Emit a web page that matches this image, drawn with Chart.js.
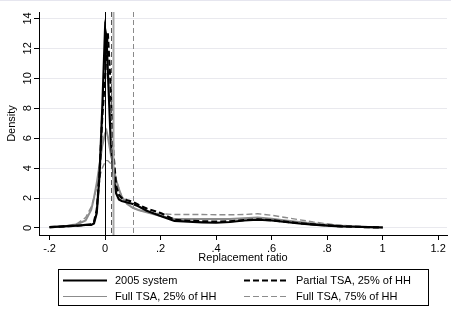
<!DOCTYPE html>
<html>
<head>
<meta charset="utf-8">
<script src="https://cdn.jsdelivr.net/npm/chart.js@4.4.1/dist/chart.umd.min.js"></script>
<style>
  html, body { margin: 0; padding: 0; background: #fff; }
  #wrap { position: relative; width: 451px; height: 313px; border-top: 1px solid #e6e6ef; box-sizing: border-box; }
  canvas { display: block; }
</style>
</head>
<body>
<div id="wrap"><canvas id="c" width="451" height="312"></canvas></div>
<script>
// ---- data ----
const xs = [-0.2,-0.15,-0.1,-0.07,-0.05,-0.04,-0.03,-0.02,-0.01,0,0.005,0.01,0.02,0.03,0.04,0.05,0.06,0.08,0.1,0.12,0.15,0.2,0.25,0.3,0.35,0.4,0.45,0.5,0.55,0.6,0.65,0.7,0.75,0.8,0.85,0.9,0.95,1.0];
const sys2005 = [0.05,0.1,0.15,0.2,0.2,0.3,1.0,3.5,8.0,13.3,12.8,10.5,6.0,3.5,2.3,1.9,1.8,1.7,1.6,1.45,1.15,0.8,0.47,0.42,0.38,0.35,0.4,0.5,0.55,0.5,0.4,0.3,0.22,0.15,0.1,0.08,0.05,0.03];
const partial25 = [0.05,0.1,0.15,0.2,0.25,0.4,1.2,3.5,7.5,10.0,12.0,13.0,9.5,5.0,2.8,2.2,2.0,1.85,1.75,1.55,1.3,1.0,0.55,0.48,0.45,0.42,0.45,0.52,0.57,0.52,0.42,0.32,0.24,0.17,0.11,0.08,0.05,0.03];
const full25 = [0.05,0.1,0.25,0.5,1.2,2.0,3.0,4.2,5.5,6.3,6.5,6.1,5.0,4.1,3.2,2.6,2.1,1.6,1.35,1.2,1.05,0.8,0.6,0.6,0.6,0.6,0.6,0.65,0.7,0.62,0.5,0.4,0.3,0.22,0.15,0.1,0.06,0.04];
const full75 = [0.05,0.1,0.3,0.7,1.4,2.0,2.7,3.4,4.0,4.4,4.5,4.5,4.3,3.8,3.2,2.6,2.1,1.6,1.35,1.2,1.05,0.95,0.9,0.9,0.9,0.88,0.88,0.9,0.95,0.85,0.7,0.55,0.4,0.28,0.18,0.12,0.07,0.04];
const seriesNames = ["2005 system", "Partial TSA, 25% of HH", "Full TSA, 25% of HH", "Full TSA, 75% of HH"];
const medians = [0, 0.02, 0.027, 0.1];
const xTicks = [-0.2, 0, 0.2, 0.4, 0.6, 0.8, 1, 1.2];
const yTicks = [0, 2, 4, 6, 8, 10, 12, 14];

const FONT = "'Liberation Sans', Arial, sans-serif";
const styles = [
  { color: '#000000', width: 2.2, dash: [] },
  { color: '#000000', width: 2.2, dash: [6, 3] },
  { color: '#8c8c8c', width: 2, dash: [] },
  { color: '#8c8c8c', width: 1.4, dash: [6, 3] }
];
const vlineStyles = [
  { color: '#000000', width: 1, dash: [] },
  { color: '#555555', width: 1, dash: [5, 3] },
  { color: '#a8a8a8', width: 2, dash: [] },
  { color: '#8a8a8a', width: 1, dash: [5, 3] }
];

function pts(arr) { return xs.map((x, i) => ({ x: x, y: arr[i] })); }
function fmt(v) {
  if (Math.abs(v) < 1e-9) return '0';
  let s = String(Math.round(v * 10) / 10);
  return s.replace(/^(-?)0\./, '$1.');
}

const allSeries = [sys2005, partial25, full25, full75];
const datasets = allSeries.map((arr, i) => ({
  label: seriesNames[i],
  data: pts(arr),
  borderColor: styles[i].color,
  borderWidth: styles[i].width,
  borderDash: styles[i].dash,
  pointRadius: 0,
  tension: 0,
  fill: false,
  order: i + 1
}));

const vlines = {
  id: 'vlines',
  afterDatasetsDraw(chart) {
    const { ctx, chartArea, scales } = chart;
    ctx.save();
    medians.forEach((m, i) => {
      const px = Math.round(scales.x.getPixelForValue(m)) + 0.5;
      ctx.beginPath();
      ctx.strokeStyle = vlineStyles[i].color;
      ctx.lineWidth = vlineStyles[i].width;
      ctx.setLineDash(vlineStyles[i].dash);
      ctx.moveTo(px, chartArea.top);
      ctx.lineTo(px, chartArea.bottom);
      ctx.stroke();
    });
    ctx.restore();
  }
};

// y tick labels, rotated (Stata style), placed from the y scale
const yLabels = {
  id: 'yLabels',
  afterDraw(chart) {
    const { ctx, scales } = chart;
    ctx.save();
    ctx.font = '11px ' + FONT;
    ctx.fillStyle = '#000';
    ctx.textAlign = 'center';
    ctx.textBaseline = 'middle';
    yTicks.forEach(v => {
      const py = scales.y.getPixelForValue(v);
      ctx.save();
      ctx.translate(27.5, py);
      ctx.rotate(-Math.PI / 2);
      ctx.fillText(fmt(v), 0, 0);
      ctx.restore();
    });
    ctx.restore();
  }
};

const legendBox = {
  id: 'legendBox',
  afterDraw(chart) {
    const ctx = chart.ctx;
    const bx = 58, by = 268, bw = 370, bh = 36;
    ctx.save();
    ctx.strokeStyle = '#000';
    ctx.lineWidth = 1;
    ctx.setLineDash([]);
    ctx.strokeRect(bx + 0.5, by + 0.5, bw, bh);
    const cols = [63, 244];
    const rows = [279, 295];
    ctx.font = '11px ' + FONT;
    ctx.textBaseline = 'middle';
    ctx.fillStyle = '#000';
    [0, 1, 2, 3].forEach((si, k) => {
      const cx = cols[k % 2], cy = rows[Math.floor(k / 2)];
      ctx.beginPath();
      ctx.strokeStyle = styles[si].color;
      ctx.lineWidth = si < 2 ? 2 : 1.2;
      ctx.setLineDash(styles[si].dash);
      ctx.moveTo(cx, cy + 0.5);
      ctx.lineTo(cx + 44, cy + 0.5);
      ctx.stroke();
      ctx.setLineDash([]);
      ctx.fillText(seriesNames[si], cx + 52, cy + 1);
    });
    ctx.restore();
  }
};

new Chart(document.getElementById('c'), {
  type: 'line',
  data: { datasets: datasets },
  options: {
    responsive: false,
    animation: false,
    layout: { padding: { top: 11, right: 4, bottom: 48, left: 0 } },
    plugins: { legend: { display: false }, tooltip: { enabled: false } },
    scales: {
      x: {
        type: 'linear',
        min: -0.238,
        max: 1.232,
        afterBuildTicks: s => { s.ticks = xTicks.map(v => ({ value: v })); },
        afterFit: s => { s.height = 30; },
        grid: { display: true, drawOnChartArea: false, drawTicks: true, tickLength: 5, tickColor: '#000' },
        border: { display: true, color: '#000', width: 1 },
        ticks: { color: '#000', font: { family: FONT, size: 11 }, padding: 2, maxRotation: 0, autoSkip: false, callback: v => fmt(v) },
        title: { display: true, text: 'Replacement ratio', color: '#000', font: { family: FONT, size: 11 }, padding: { top: 0, bottom: 0 } }
      },
      y: {
        type: 'linear',
        min: -0.47,
        max: 14.43,
        afterBuildTicks: s => { s.ticks = yTicks.map(v => ({ value: v })); },
        afterFit: s => { s.width = 39; },
        grid: { display: true, color: '#e9e9ee', lineWidth: 1, drawTicks: true, tickLength: 5, tickColor: '#000' },
        border: { display: true, color: '#000', width: 1 },
        ticks: { display: false },
        title: { display: true, text: 'Density', color: '#000', font: { family: FONT, size: 11 }, padding: { top: 5, bottom: 0 } }
      }
    }
  },
  plugins: [vlines, yLabels, legendBox]
});
</script>
</body>
</html>
